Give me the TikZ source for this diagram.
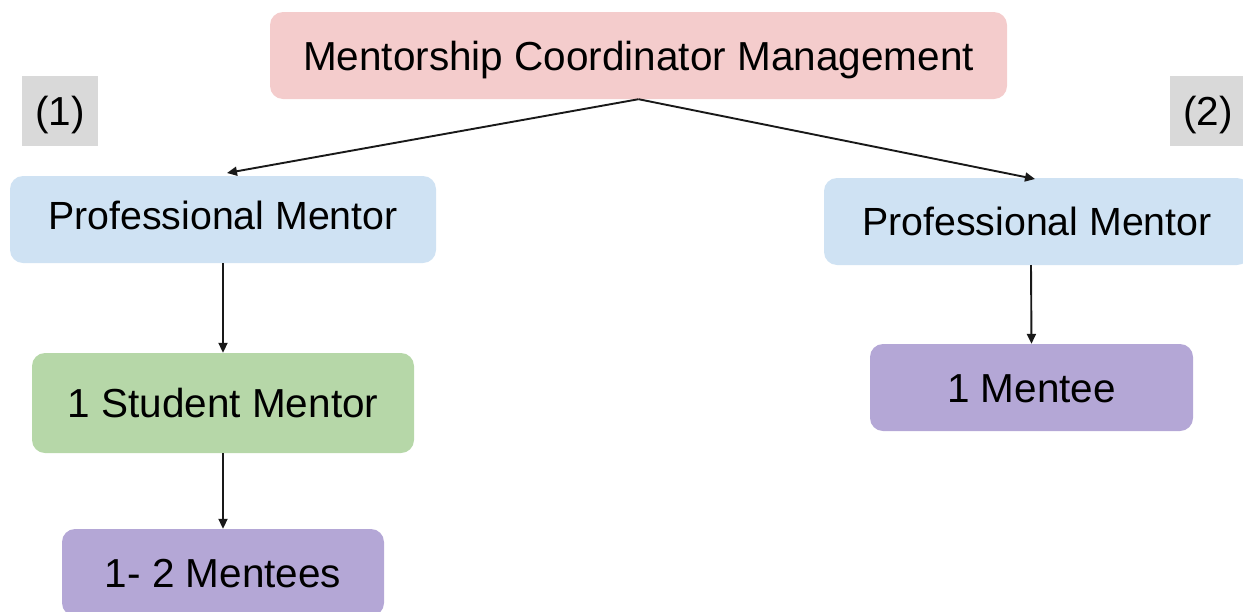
\documentclass[tikz,border=0pt]{standalone}
\usepackage{fontspec}
\setmainfont{Liberation Sans}
\usetikzlibrary{arrows.meta}
\definecolor{pinkfill}{HTML}{F4CCCC}
\definecolor{bluefill}{HTML}{CFE2F3}
\definecolor{greenfill}{HTML}{B6D7A8}
\definecolor{purplefill}{HTML}{B4A7D6}
\definecolor{grayfill}{HTML}{D9D9D9}
\begin{document}
\begin{tikzpicture}[x=1pt,y=-1pt,
  box/.style={rounded corners=13pt, inner sep=0pt, align=center,
    font=\fontsize{40.5}{41}\selectfont, text height=29pt, text depth=0pt},
  pmbox/.style={box, fill=bluefill, minimum width=426pt, minimum height=87pt,
    font=\fontsize{39.3}{40}\selectfont, text height=28.2pt},
  tag/.style={inner sep=0pt, align=center,
    font=\fontsize{40.5}{41}\selectfont, text height=29pt, text depth=0pt},
  link/.style={draw=black!90, line width=1.9pt, -{Triangle[length=10pt,width=9pt]}}]
\useasboundingbox (0,0) rectangle (1243,611);
\clip (0,0) rectangle (1243,611);
\node[box, fill=pinkfill, minimum width=737pt, minimum height=87pt] (top) at (638.5,55.5) {Mentorship Coordinator Management};
\node[tag, fill=grayfill, minimum width=76pt, minimum height=70pt] (t1) at (60,111) {(1)};
\node[tag, fill=grayfill, minimum width=76pt, minimum height=70pt] (t2) at (1208,111) {(2)};
\node[pmbox, text depth=8pt] (lpm) at (223,219.5) {Professional Mentor};
\node[pmbox] (rpm) at (1037,221.5) {Professional Mentor};
\node[box, fill=greenfill, minimum width=382pt, minimum height=100pt] (sm) at (223,403) {1 Student Mentor};
\node[box, fill=purplefill, minimum width=322pt, minimum height=87pt] (lm) at (223,572.5) {1- 2 Mentees};
\node[box, fill=purplefill, minimum width=323pt, minimum height=87pt] (rm) at (1031.5,387.5) {1 Mentee};
\coordinate (ltip) at (227,173);
\coordinate (rtip) at (1035,179);
\coordinate (rstart) at (1031,265);
\draw[link] (top.south) -- (ltip);
\draw[link] (top.south) -- (rtip);
\draw[link] (lpm.south) -- (sm.north);
\draw[link] (sm.south) -- (lm.north);
\draw[link] (rstart) -- (rm.north);
\end{tikzpicture}
\end{document}
